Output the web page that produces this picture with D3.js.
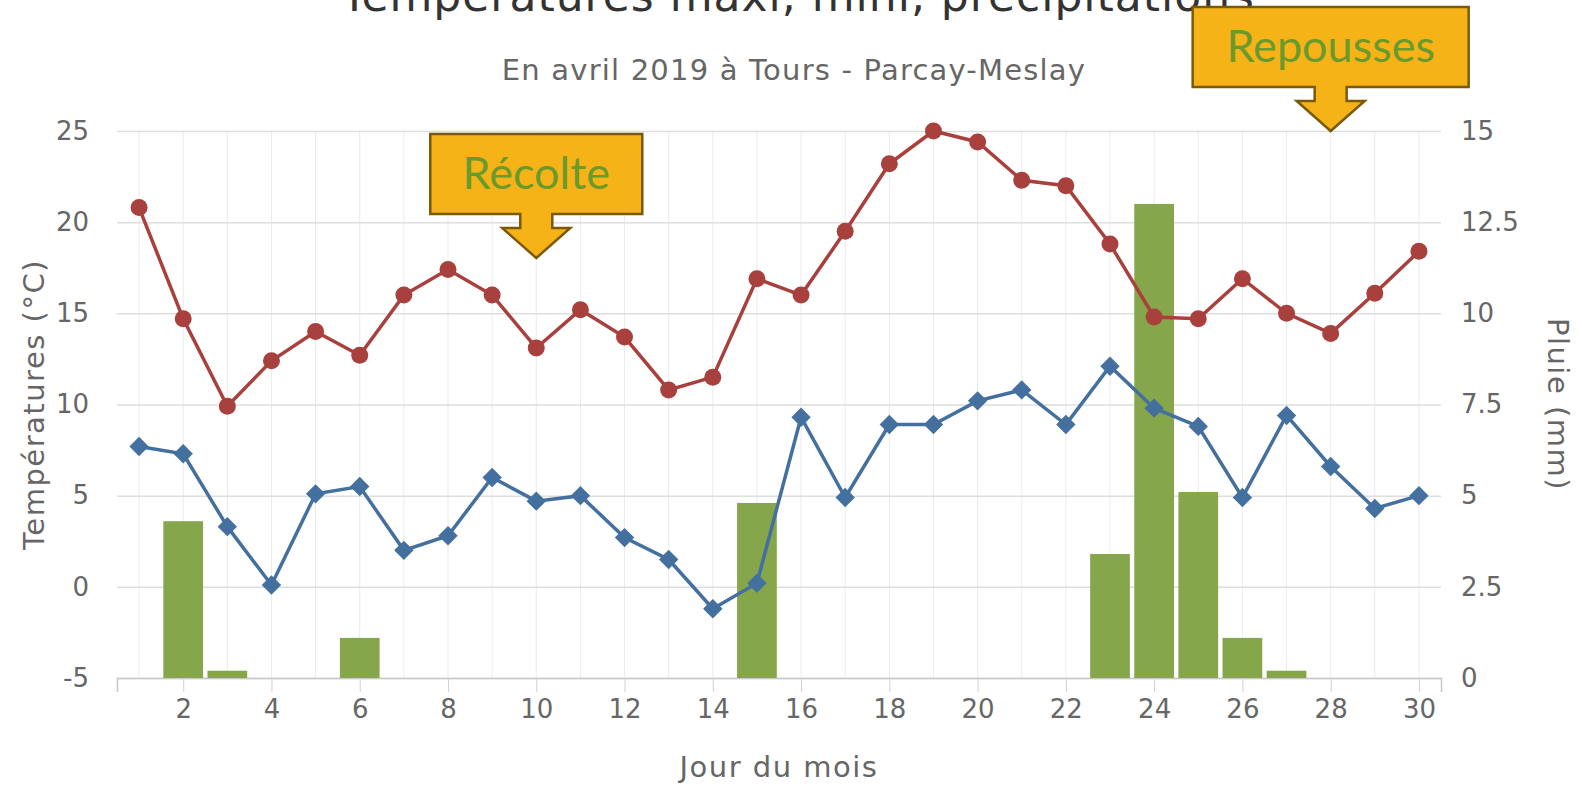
<!DOCTYPE html>
<html>
<head>
<meta charset="utf-8">
<script src="https://cdn.jsdelivr.net/npm/d3@7"></script>
<style>
  body { margin: 0; background: #fff; }
  text { font-family: "DejaVu Sans", sans-serif; }
</style>
</head>
<body>
<script>
// data
var days = [1,2,3,4,5,6,7,8,9,10,11,12,13,14,15,16,17,18,19,20,21,22,23,24,25,26,27,28,29,30];
var tMax = [20.8,14.7,9.9,12.4,14.0,12.7,16.0,17.4,16.0,13.1,15.2,13.7,10.8,11.5,16.9,16.0,19.5,23.2,25.0,24.4,22.3,22.0,18.8,14.8,14.7,16.9,15.0,13.9,16.1,18.4];
var tMin = [7.7,7.3,3.3,0.1,5.1,5.5,2.0,2.8,6.0,4.7,5.0,2.7,1.5,-1.2,0.2,9.3,4.9,8.9,8.9,10.2,10.8,8.9,12.1,9.8,8.8,4.9,9.4,6.6,4.3,5.0];
var rain = [0,4.3,0.2,0,0,1.1,0,0,0,0,0,0,0,0,4.8,0,0,0,0,0,0,0,3.4,13.0,5.1,1.1,0.2,0,0,0];
var tempTicks = [-5,0,5,10,15,20,25];
var rainTicks = [0,2.5,5,7.5,10,12.5,15];
var dayTicks = [2,4,6,8,10,12,14,16,18,20,22,24,26,28,30];
var notes = [{label: "Récolte", day: 10}, {label: "Repousses", day: 28}];

window.onload = function(){
    var w = 1578, h = 786;
    var left = 117, right = 1441, top = 131, bottom = 678;

    var svg = d3.select("body").append("svg")
        .attr("width", w)
        .attr("height", h);

    var x = d3.scaleLinear().domain([0.5, 30.5]).range([left, right]);
    var step = x(2) - x(1);
    var yT = d3.scaleLinear().domain([-5, 25]).range([bottom, top]);
    var yR = d3.scaleLinear().domain([0, 15]).range([bottom, top]);
    var plain = function(d){ return String(d); };   // hyphen instead of unicode minus

    // vertical day gridlines
    svg.append("g").selectAll("line")
        .data(days)
        .enter().append("line")
        .attr("x1", function(d){ return x(d); })
        .attr("x2", function(d){ return x(d); })
        .attr("y1", top)
        .attr("y2", bottom)
        .style("stroke", "#ebebeb")
        .style("stroke-width", 1);

    // horizontal gridlines + left labels
    var yAxisL = svg.append("g")
        .attr("transform", "translate(" + left + ",0)")
        .call(d3.axisLeft(yT).tickValues(tempTicks).tickSize(-(right - left)).tickPadding(28).tickFormat(plain));
    yAxisL.select(".domain").remove();
    yAxisL.selectAll("line").style("stroke", "#dedede").style("stroke-width", 1.5);
    yAxisL.selectAll("text").style("fill", "#666").style("font-size", "26px");

    var yAxisR = svg.append("g")
        .attr("transform", "translate(" + right + ",0)")
        .call(d3.axisRight(yR).tickValues(rainTicks).tickSize(0).tickPadding(20).tickFormat(plain));
    yAxisR.select(".domain").remove();
    yAxisR.selectAll("text").style("fill", "#666").style("font-size", "26px");

    var xAxis = svg.append("g")
        .attr("transform", "translate(0," + bottom + ")")
        .call(d3.axisBottom(x).tickValues(dayTicks).tickSize(14).tickPadding(8));
    xAxis.select(".domain").style("stroke", "#c8c8c8").style("stroke-width", 1.5);
    xAxis.selectAll("line").style("stroke", "#d0d0d0");
    xAxis.selectAll("text").style("fill", "#666").style("font-size", "26px");

    // rain bars
    svg.append("g").selectAll("rect")
        .data(rain)
        .enter().append("rect")
        .attr("x", function(d, i){ return x(days[i]) - step * 0.45; })
        .attr("width", step * 0.9)
        .attr("y", function(d){ return yR(d); })
        .attr("height", function(d){ return yR(0) - yR(d); })
        .style("fill", "#86a64b");

    // temperature lines
    var line = function(vals){
        return d3.line()
            .x(function(d, i){ return x(days[i]); })
            .y(function(d){ return yT(d); })(vals);
    };

    svg.append("path")
        .attr("d", line(tMax))
        .style("fill", "none")
        .style("stroke", "#a8403d")
        .style("stroke-width", 3.5);

    svg.append("path")
        .attr("d", line(tMin))
        .style("fill", "none")
        .style("stroke", "#44709f")
        .style("stroke-width", 3.5);

    svg.append("g").selectAll("circle")
        .data(tMax)
        .enter().append("circle")
        .attr("cx", function(d, i){ return x(days[i]); })
        .attr("cy", function(d){ return yT(d); })
        .attr("r", 8.5)
        .style("fill", "#a8403d");

    svg.append("g").selectAll("path")
        .data(tMin)
        .enter().append("path")
        .attr("d", d3.symbol().type(d3.symbolDiamond2).size(240))
        .attr("transform", function(d, i){ return "translate(" + x(days[i]) + "," + yT(d) + ")"; })
        .style("fill", "#44709f");

    // titles
    svg.append("text")
        .attr("x", 798).attr("y", 11)
        .attr("text-anchor", "middle")
        .style("font-size", "44px")
        .style("letter-spacing", "1px")
        .style("fill", "#333")
        .text("Températures maxi, mini, précipitations");

    svg.append("text")
        .attr("x", 794).attr("y", 80)
        .attr("text-anchor", "middle")
        .style("font-size", "29px")
        .style("letter-spacing", "1.2px")
        .style("fill", "#666")
        .text("En avril 2019 à Tours - Parcay-Meslay");

    svg.append("text")
        .attr("transform", "translate(44," + ((top + bottom) / 2) + ") rotate(-90)")
        .attr("text-anchor", "middle")
        .style("font-size", "29px")
        .style("letter-spacing", "1.5px")
        .style("fill", "#666")
        .text("Températures (°C)");

    svg.append("text")
        .attr("transform", "translate(1548," + ((top + bottom) / 2) + ") rotate(90)")
        .attr("text-anchor", "middle")
        .style("font-size", "29px")
        .style("letter-spacing", "1.5px")
        .style("fill", "#666")
        .text("Pluie (mm)");

    svg.append("text")
        .attr("x", 779).attr("y", 777)
        .attr("text-anchor", "middle")
        .style("font-size", "29px")
        .style("letter-spacing", "1.5px")
        .style("fill", "#666")
        .text("Jour du mois");

    // callout arrows
    var boxes = [{w: 212, top: 134, h: 80}, {w: 276, top: 7, h: 80}];
    notes.forEach(function(n, i){
        var b = boxes[i], cx = x(n.day);
        var L = cx - b.w / 2, R = cx + b.w / 2, B = b.top + b.h;
        var p = d3.path();
        p.moveTo(L, b.top);
        p.lineTo(R, b.top);
        p.lineTo(R, B);
        p.lineTo(cx + 16, B);
        p.lineTo(cx + 16, B + 14);
        p.lineTo(cx + 34, B + 14);
        p.lineTo(cx, B + 44);
        p.lineTo(cx - 34, B + 14);
        p.lineTo(cx - 16, B + 14);
        p.lineTo(cx - 16, B);
        p.lineTo(L, B);
        p.closePath();
        svg.append("path")
            .attr("d", p.toString())
            .style("fill", "#f6b318")
            .style("stroke", "#7a5a06")
            .style("stroke-width", 2.5);
        svg.append("text")
            .attr("x", cx).attr("y", b.top + b.h / 2 + 15)
            .attr("text-anchor", "middle")
            .style("font-family", "Lato, 'Open Sans', sans-serif")
            .style("font-size", "45px")
            .style("fill", "#6a9a2c")
            .text(n.label);
    });
};
</script>
</body>
</html>
